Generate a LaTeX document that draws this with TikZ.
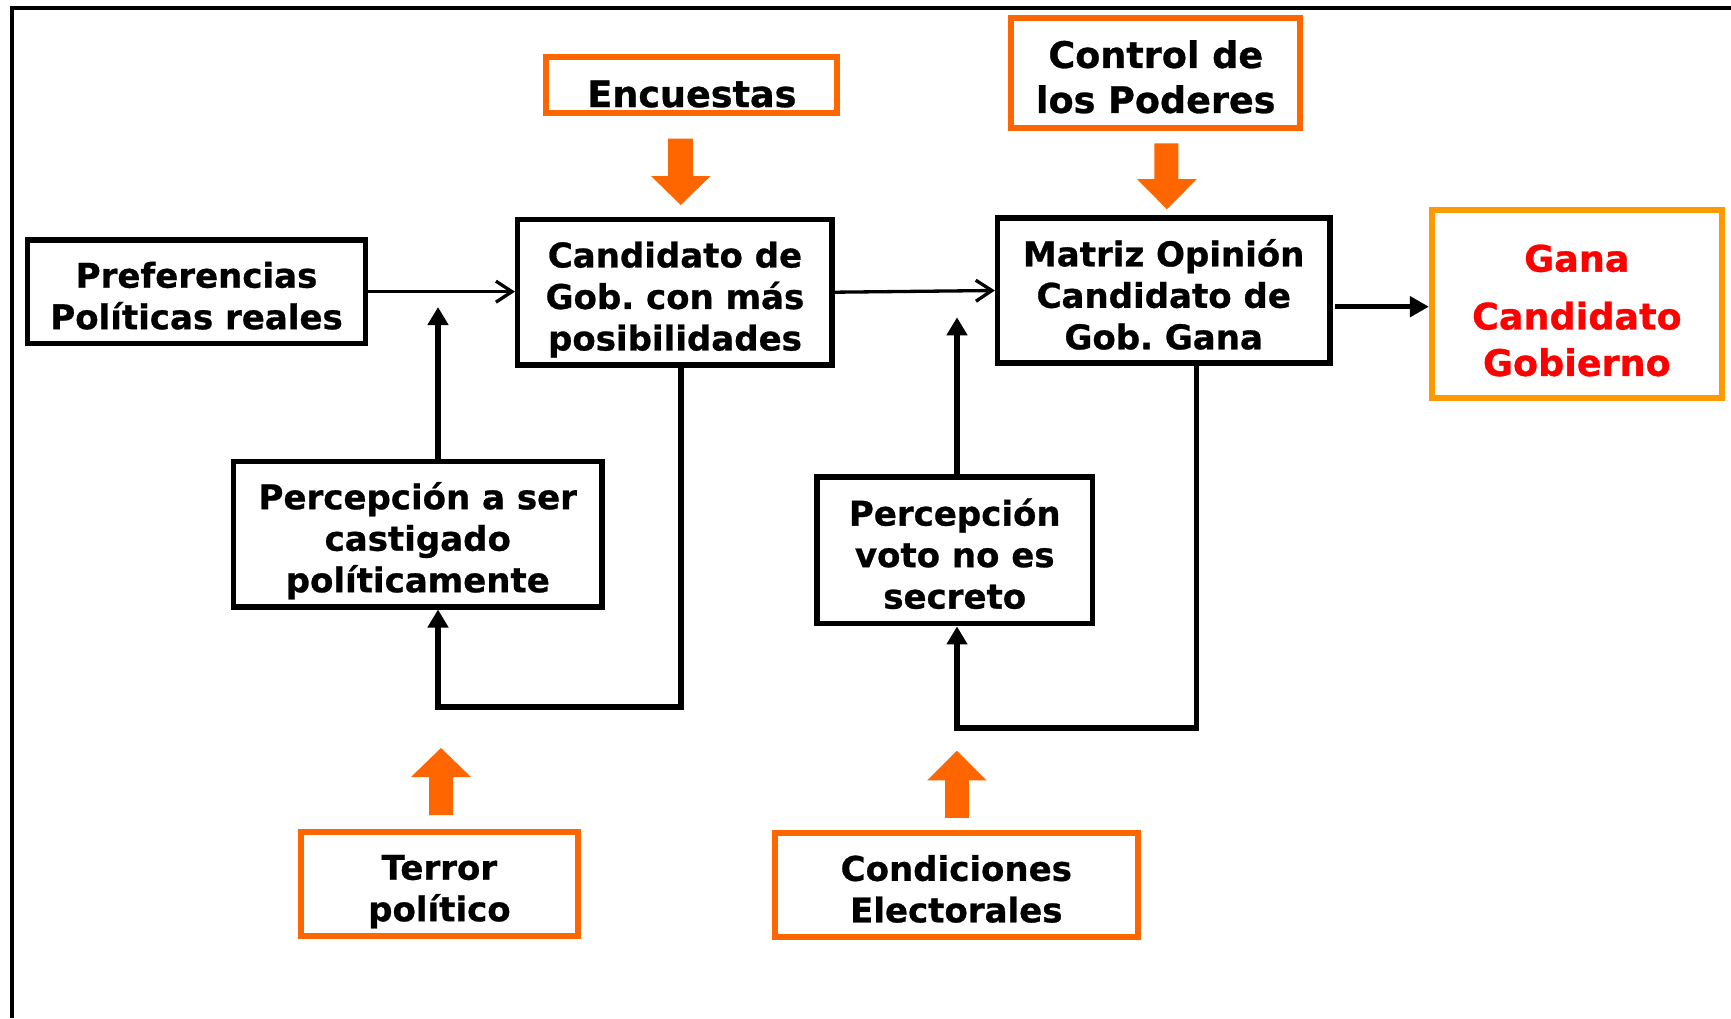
\documentclass[tikz,border=0pt]{standalone}
\usepackage{fontspec}
\setmainfont{DejaVu Sans}[BoldFeatures={FakeBold=0.8}]
\usetikzlibrary{arrows.meta}
\frenchspacing
\definecolor{orng}{HTML}{FF6600}
\definecolor{gold}{HTML}{FF9900}
\definecolor{rojo}{HTML}{FF0000}
\newcommand\fsA{\fontsize{9.67pt}{11.8pt}\selectfont\bfseries\frenchspacing}
\newcommand\fsB{\fontsize{10.39pt}{12.8pt}\selectfont\bfseries\frenchspacing}
\newcommand\fsG{\fontsize{10.39pt}{13.2pt}\selectfont\bfseries\frenchspacing}
\newcommand\lift[1]{\rule{0pt}{#1}}
\tikzset{
  bbox/.style={draw=black, line width=0.055cm, rectangle, align=center, inner sep=0pt, font=\fsA},
  obox/.style={draw=orng, line width=0.06cm, rectangle, align=center, inner sep=0pt, font=\fsA},
  gbox/.style={draw=gold, line width=0.06cm, rectangle, align=center, inner sep=0pt, font=\fsG, text=rojo},
  thinarr/.style={draw=black, line width=0.033cm, -{Straight Barb[length=0.16cm,width=0.21cm]}},
  thickarr/.style={draw=black, line width=0.055cm, line join=miter, -{Triangle[length=0.18cm,width=0.2cm]}},
  ganaarr/.style={draw=black, line width=0.053cm, -{Triangle[length=0.19cm,width=0.2cm]}},
  blockarr/.style={fill=orng},
  frame/.style={draw=black, line width=0.04cm, line join=miter}
}
\begin{document}
\begin{tikzpicture}[x=0.01cm,y=-0.01cm]
\useasboundingbox (0,0) rectangle (1731,1018);
\fill[white] (0,0) rectangle (1731,1018);
\draw[frame] (12,1018) -- (12,8) -- (1731,8);

\node[bbox, minimum width=3.379cm, minimum height=1.033cm] (pref) at (196.55,291.65) {\lift{0.34cm}Preferencias\\Políticas reales};
\node[bbox, minimum width=3.143cm, minimum height=1.45cm] (cand) at (674.95,292.2) {\lift{0.405cm}Candidato de\\Gob. con más\\posibilidades};
\node[obox, minimum width=2.908cm, minimum height=0.56cm, font=\fsB] (enc) at (691.9,85) {\lift{0.446cm}Encuestas};
\node[obox, minimum width=2.885cm, minimum height=1.097cm, font=\fsB] (ctrl) at (1155.75,72.85) {\lift{0.357cm}Control de\\los Poderes};
\node[bbox, minimum width=3.32cm, minimum height=1.45cm] (matriz) at (1163.7,290.5) {\lift{0.35cm}Matriz Opinión\\Candidato de\\Gob. Gana};
\node[gbox, minimum width=2.897cm, minimum height=1.874cm] (gana) at (1576.85,304) {\lift{0.40cm}Gana\\[0.114cm]Candidato\\Gobierno};
\node[bbox, minimum width=3.683cm, minimum height=1.454cm] (cast) at (417.75,534) {\lift{0.405cm}Percepción a ser\\castigado\\políticamente};
\node[obox, minimum width=2.768cm, minimum height=1.043cm] (terror) at (439.4,884) {\lift{0.40cm}Terror\\político};
\node[bbox, minimum width=2.749cm, minimum height=1.465cm] (secreto) at (954.75,550.35) {\lift{0.34cm}Percepción\\voto no es\\secreto};
\node[obox, minimum width=3.622cm, minimum height=1.044cm] (cond) at (956.3,884.8) {\lift{0.34cm}Condiciones\\Electorales};

% connectors
\draw[thinarr] (pref.east) -- (pref.east -| cand.west);
\draw[thinarr] (cand.east) -- (matriz.west);
\coordinate (mg) at (1335,306.7);
\draw[ganaarr] (mg) -- (mg -| gana.west);

\coordinate (t1) at (438,307);
\draw[thickarr] (t1 |- cast.north) -- (t1);
\coordinate (l1) at (681,707);
\draw[thickarr] (l1 |- cand.south) -- (l1) -| (t1 |- cast.south);

\coordinate (t2) at (957,317.3);
\draw[thickarr] (t2 |- secreto.north) -- (t2);
\coordinate (l2) at (1196.5,728);
\draw[thickarr] (l2 |- matriz.south) -- (l2) -| (t2 |- secreto.south);

% orange block arrows
\fill[blockarr] (668,138.7) -- (692.8,138.7) -- (692.8,176) -- (710.6,176) -- (680.8,205) -- (651,176) -- (668,176) -- cycle;
\fill[blockarr] (1154.3,143.3) -- (1178.4,143.3) -- (1178.4,179) -- (1196.8,179) -- (1166.9,209.3) -- (1137,179) -- (1154.3,179) -- cycle;
\fill[blockarr] (429,815) -- (453,815) -- (453,777) -- (471,777) -- (441,748) -- (411,777) -- (429,777) -- cycle;
\fill[blockarr] (945.2,817.8) -- (968.9,817.8) -- (968.9,780.4) -- (986.5,780.4) -- (956.9,750.8) -- (927.2,780.4) -- (945.2,780.4) -- cycle;
\end{tikzpicture}
\end{document}
